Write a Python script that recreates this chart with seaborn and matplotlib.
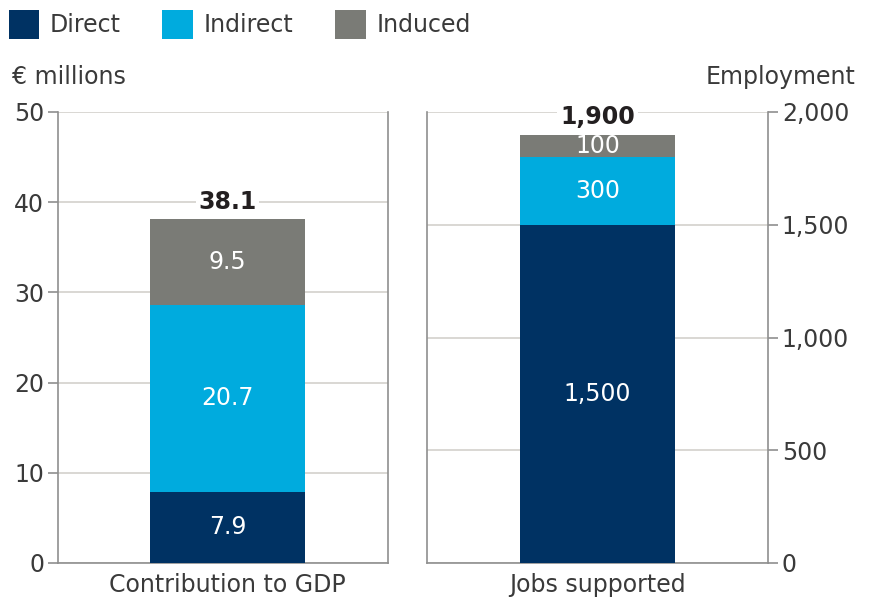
import matplotlib
matplotlib.use("Agg")
import matplotlib.pyplot as plt
import seaborn as sns
import pandas as pd
from matplotlib.patches import Patch

# Economic contribution data
categories = ["Contribution to GDP", "Jobs supported"]
series = ["Direct", "Indirect", "Induced"]
direct = [7.9, 1500]
indirect = [20.7, 300]
induced = [9.5, 100]
totals = [38.1, 1900]
value_labels = [["7.9", "20.7", "9.5"], ["1,500", "300", "100"]]
total_labels = ["38.1", "1,900"]
left_ticks = [0, 10, 20, 30, 40, 50]
right_ticks = [0, 500, 1000, 1500, 2000]
right_tick_labels = ["0", "500", "1,000", "1,500", "2,000"]

colors = {"Direct": "#003263", "Indirect": "#00ABDE", "Induced": "#7A7B76"}
grid_c = "#D3D1CC"
spine_c = "#8F8F8F"
text_c = "#3A3A3A"

sns.set_theme(style="white")
plt.rcParams["font.family"] = ["DejaVu Sans"]

df = pd.DataFrame({
    "category": categories,
    "Direct": direct,
    "Indirect": indirect,
    "Induced": induced,
})

fig = plt.figure(figsize=(8.69, 6.01), dpi=100)
ax1 = fig.add_axes([58 / 869, 1 - 563 / 601, 330 / 869, 451 / 601])
ax2 = fig.add_axes([427 / 869, 1 - 563 / 601, 341 / 869, 451 / 601])

bar_widths = [155 / 330, 155 / 341]
fs = 17

for i, (ax, ylim, ticks) in enumerate([(ax1, 50, left_ticks), (ax2, 2000, right_ticks)]):
    row = df[df["category"] == categories[i]]
    # stacked bars: draw cumulative heights from the top layer down
    cum = {
        "Induced": row["Direct"] + row["Indirect"] + row["Induced"],
        "Indirect": row["Direct"] + row["Indirect"],
        "Direct": row["Direct"],
    }
    for s in ["Induced", "Indirect", "Direct"]:
        sns.barplot(x=row["category"], y=cum[s], color=colors[s], width=bar_widths[i],
                    saturation=1, ax=ax, zorder=3, linewidth=0)
    ax.set_ylim(0, ylim)
    ax.set_yticks(ticks)
    ax.yaxis.grid(True, color=grid_c, linewidth=1.2, zorder=0)
    ax.set_axisbelow(True)
    ax.set_xlabel("")
    ax.set_ylabel("")
    for side in ["left", "right", "bottom"]:
        ax.spines[side].set_visible(True)
        ax.spines[side].set_color(spine_c)
        ax.spines[side].set_linewidth(1.2)
    ax.spines["top"].set_visible(False)
    ax.tick_params(axis="x", length=0, labelsize=fs, labelcolor=text_c, pad=7)
    ax.tick_params(axis="y", length=7, width=1.2, color=spine_c, labelsize=fs,
                   labelcolor=text_c, pad=3)

    # segment labels at the middle of each segment
    d, ind, inu = direct[i], indirect[i], induced[i]
    mids = [d / 2, d + ind / 2, d + ind + inu / 2]
    for m, lab in zip(mids, value_labels[i]):
        ax.text(0, m, lab, color="white", ha="center", va="center", fontsize=fs)
    ax.annotate(total_labels[i], xy=(0, totals[i]), xytext=(0, 12.5),
                textcoords="offset points", ha="center", va="center",
                fontsize=fs, fontweight="bold", color="#231F20", zorder=5,
                bbox=dict(boxstyle="square,pad=0.12", fc="white", ec="none"))

ax1.set_xlim(-0.5136, 0.4864)
ax2.set_xlim(-0.5, 0.5)
ax1.yaxis.tick_left()
ax2.yaxis.tick_right()
ax2.set_yticklabels(right_tick_labels)
ax2.yaxis.set_tick_params(pad=3)
ax1.yaxis.set_tick_params(pad=3)

fig.text(12 / 869, 1 - 77 / 601, "€ millions", fontsize=fs, color=text_c,
         ha="left", va="center")
fig.text(855 / 869, 1 - 77 / 601, "Employment", fontsize=fs, color=text_c,
         ha="right", va="center")

handles = [Patch(facecolor=colors[s], edgecolor="none", label=s) for s in series]
fig.legend(handles=handles, loc="upper left", bbox_to_anchor=(-0.004, 1.004),
           ncol=3, frameon=False, fontsize=fs, handlelength=1.3, handleheight=1.5,
           handletextpad=0.45, columnspacing=1.75, borderaxespad=0.12,
           labelcolor=text_c)

fig.savefig("out.png", dpi=100)
